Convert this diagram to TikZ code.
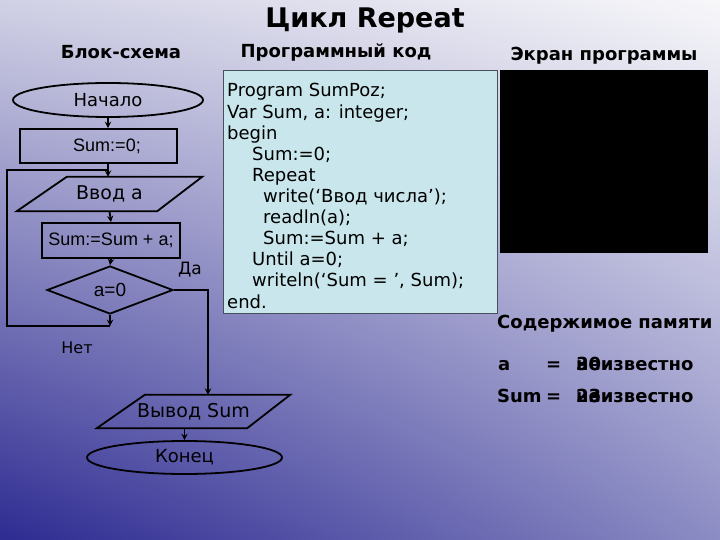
\documentclass[tikz,border=0pt]{standalone}
\usepackage{fontspec}
\setmainfont{DejaVu Sans}
\newfontfamily\arialfont{Liberation Sans}
\usetikzlibrary{shapes,shapes.geometric,arrows}
\definecolor{codefill}{RGB}{200,230,235}
\definecolor{codeline}{RGB}{70,80,90}
% slide background: light top right, dark blue bottom left
\pgfdeclarefunctionalshading{slidebg}{\pgfpoint{-50bp}{-50bp}}{\pgfpoint{50bp}{50bp}}{}{
  25 add 50 div exch 25 add 50 div dup 0.15 mul 0.85 add mul exch
  1 index 1 index mul -0.22 mul 2 index 0.37 mul add 1 index 0.64 mul add 0.18 add
  3 1 roll
  1 index 1 index mul -0.23 mul 2 index 0.38 mul add 1 index 0.65 mul add 0.17 add
  3 1 roll
  1 index 1 index mul -0.12 mul 2 index 0.20 mul add 1 index 0.33 mul add 0.57 add
  3 1 roll
  pop pop
}
\tikzstyle{terminal}=[draw,ellipse,line width=1.8pt,inner sep=0pt,font=\fontsize{18}{18}\selectfont]
\tikzstyle{process}=[draw,rectangle,line width=1.8pt,inner sep=0pt,font=\arialfont\fontsize{18}{18}\selectfont]
\tikzstyle{iotext}=[inner sep=0pt,font=\fontsize{19}{19}\selectfont]
\tikzstyle{iobox}=[line width=1.8pt,line join=miter]
\tikzstyle{decision}=[draw,diamond,line width=1.8pt,inner sep=0pt,font=\arialfont\fontsize{19}{19}\selectfont]
\tikzstyle{flow}=[line width=1.8pt,->,>=stealth]
\tikzstyle{header}=[font=\bfseries\fontsize{18}{18}\selectfont]
\tikzstyle{codetext}=[anchor=base west,inner sep=0pt,font=\fontsize{18}{18}\selectfont]
\tikzstyle{memtext}=[anchor=base west,inner sep=0pt,font=\bfseries\fontsize{18}{18}\selectfont]

\begin{document}
\begin{tikzpicture}[x=1pt,y=-1pt]
\useasboundingbox (0,0) rectangle (720,540);
\shade[shading=slidebg] (0,0) rectangle (720,540);

% titles
\node[font=\bfseries\fontsize{27}{27}\selectfont] (title) at (365,20) {Цикл Repeat};
\node[header] (hflow) at (121,52) {Блок-схема};
\node[header] (hcode) at (336,52) {Программный код};
\node[header] (hscreen) at (604,56) {Экран программы};

% flowchart
\node[terminal,minimum width=190pt,minimum height=34pt] (start) at (108,100) {Начало};
\node[process,minimum width=157pt,minimum height=34pt] (init) at (98.5,146) {\hspace{17pt}Sum:=0;};
\node[iotext,minimum width=185pt,minimum height=34pt] (input) at (109.5,194) {Ввод а};
\draw[iobox] ([xshift=50pt]input.north west) -- (input.north east)
  -- ([xshift=-45pt]input.south east) -- (input.south west) -- cycle;
\node[process,minimum width=138pt,minimum height=35pt] (add) at (111,240.5) {Sum:=Sum + a;};
\node[decision,minimum width=126pt,minimum height=48pt] (cond) at (110,290) {a=0};
\node[iotext,minimum width=193pt,minimum height=33pt] (output) at (193.5,411.5) {Вывод Sum};
\draw[iobox] ([xshift=48pt]output.north west) -- (output.north east)
  -- ([xshift=-43pt]output.south east) -- (output.south west) -- cycle;
\node[terminal,minimum width=195pt,minimum height=33pt] (stop) at (184.5,457.5) {Конец};
\node[font=\fontsize{17}{17}\selectfont] (yes) at (190,270) {Да};
\node[font=\fontsize{16}{16}\selectfont] (no) at (77,348) {Нет};
\coordinate (loopbot) at (110,326);
\coordinate (loopleft) at (7,170);
\coordinate (yesturn) at (208,290);

\draw[flow] (start.south) -- (start.south |- init.north);
\draw[flow] (init.south -| start.south) -- (input.north -| start.south);
\draw[flow] (input.south) -- (add.north);
\draw[flow] (add.south) -- (cond.north);
\draw[flow] (cond.south) -- (loopbot);
\draw[line width=1.8pt] (loopbot) -| (loopleft) -- (loopleft -| start.south);
\draw[flow] (cond.east) -- (yesturn) -- (yesturn |- output.north);
\draw[flow] (stop.north |- output.south) -- (stop.north);

% program code
\node[draw=codeline,fill=codefill,line width=0.8pt,anchor=north west,minimum width=274pt,minimum height=243pt,inner sep=0pt] (code) at (223,70) {};
\foreach \i/\x/\t in {0/227/{Program SumPoz;},1/227/{Var Sum, a: integer;},2/227/{begin},
  3/252/{Sum:=0;},4/252/{Repeat},5/263/{write(‘Ввод числа’);},6/263/{readln(a);},
  7/263/{Sum:=Sum + a;},8/252/{Until a=0;},9/252/{writeln(‘Sum = ’, Sum);},10/227/{end.}}
  \node[codetext] (line\i) at (\x,{97+21.1*\i}) {\t};

% program screen
\node[fill=black,anchor=north west,minimum width=208pt,minimum height=183pt,inner sep=0pt] (screen) at (500,70) {};

% memory
\node[memtext] (memhead) at (497,328) {Содержимое памяти};
\node[memtext] (vara) at (498,370) {a};
\node[memtext] (eqa) at (546,370) {=};
\node[memtext] (vala) at (576,370) {неизвестно};
\node[memtext] (olda) at (576,370) {30};
\node[memtext] (varsum) at (497,402) {Sum};
\node[memtext] (eqsum) at (546,402) {=};
\node[memtext] (valsum) at (576,402) {неизвестно};
\node[memtext] (oldsum) at (576,402) {23};
\end{tikzpicture}
\end{document}
